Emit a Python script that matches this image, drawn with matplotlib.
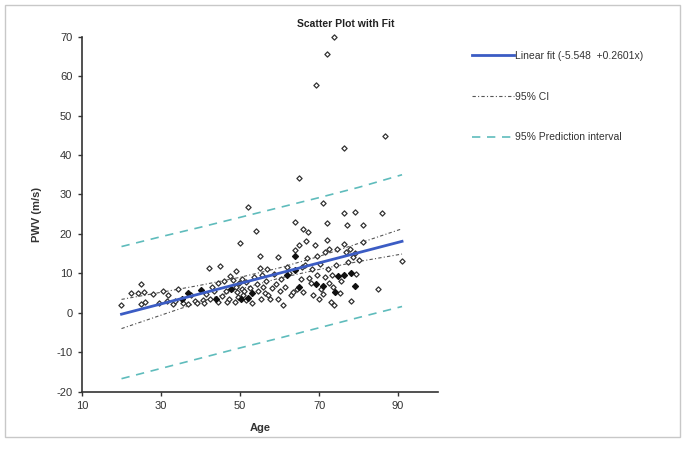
import matplotlib
matplotlib.use("Agg")
import matplotlib.pyplot as plt
from matplotlib.patches import Rectangle

plt.rcParams['font.family'] = ['Liberation Sans', 'DejaVu Sans']
plt.rcParams['axes.unicode_minus'] = False

# ---- data ----
age = [19.8, 22.5, 24.2, 24.9, 24.9, 25.8, 26.0, 28.0, 29.5, 30.5, 31.5, 31.8,
       33.0, 33.5, 34.2, 35.2, 35.5, 36.8, 36.8, 37.5, 38.5, 39.0, 40.1, 40.5,
       40.8, 41.5, 42.1, 42.5, 43.0, 43.5, 44.0, 44.9, 44.5, 44.5, 45.5, 46.0,
       46.5, 46.8, 47.2, 47.7, 47.5, 48.3, 48.6, 49.1, 49.0, 49.3, 49.5, 49.8,
       50.1, 50.2, 50.5, 50.5, 50.8, 51.0, 51.5, 51.5, 52.0, 52.1, 52.5, 53.0,
       53.0, 53.5, 54.0, 54.3, 54.6, 55.1, 55.1, 55.2, 55.5, 55.8, 56.2, 56.8,
       56.5, 57.0, 57.7, 58.0, 58.7, 59.0, 59.7, 59.7, 60.0, 60.3, 60.8, 61.3,
       61.8, 62.0, 62.5, 62.8, 63.5, 63.9, 63.9, 64.0, 64.0, 64.3, 64.9, 65.0,
       65.0, 65.5, 65.8, 66.0, 66.0, 66.5, 66.7, 67.1, 67.0, 67.5, 68.0, 68.3,
       68.5, 69.0, 69.1, 69.1, 69.5, 69.5, 69.9, 70.3, 70.5, 71.0, 71.0, 71.0,
       71.5, 71.5, 72.0, 72.0, 72.0, 72.3, 72.5, 72.5, 72.9, 73.3, 73.5, 73.8,
       73.9, 74.0, 74.2, 74.5, 74.9, 75.2, 75.5, 76.2, 76.2, 76.3, 76.4, 76.8,
       77.1, 77.3, 77.9, 78.1, 78.2, 78.5, 79.0, 79.1, 79.1, 79.3, 80.0, 81.1,
       81.0, 84.8, 85.9, 86.8, 91.0]
pwv = [2.0, 4.9, 4.9, 7.2, 2.2, 5.3, 2.8, 4.7, 2.6, 5.6, 2.9, 4.6,
       2.2, 2.9, 6.1, 3.5, 2.4, 5.1, 2.2, 4.5, 3.0, 2.5, 5.8, 3.2,
       2.6, 4.8, 11.4, 3.5, 6.5, 5.6, 3.5, 11.9, 7.6, 2.8, 4.2, 8.0,
       5.5, 2.8, 3.6, 6.0, 9.3, 8.2, 2.8, 10.6, 6.6, 5.2, 4.0, 7.5,
       17.8, 3.5, 8.6, 6.0, 4.6, 5.5, 7.9, 3.2, 26.9, 3.8, 6.2, 5.0,
       2.5, 9.0, 20.7, 7.2, 5.5, 14.5, 11.3, 3.6, 9.5, 6.5, 5.0, 11.2,
       8.0, 4.5, 3.6, 6.3, 9.8, 7.2, 14.2, 3.6, 5.5, 8.5, 2.1, 6.5,
       9.7, 11.5, 10.2, 4.6, 5.2, 14.4, 23.1, 15.9, 10.9, 6.0, 34.3, 17.2,
       6.5, 8.5, 11.5, 21.3, 5.2, 12.0, 18.2, 20.4, 14.0, 8.8, 7.5, 11.0,
       4.4, 17.2, 7.4, 57.8, 14.5, 9.5, 3.5, 12.5, 6.0, 27.8, 6.8, 4.8,
       15.5, 9.0, 65.6, 22.7, 18.4, 11.0, 16.3, 7.5, 2.8, 9.5, 6.5, 2.1,
       69.8, 5.4, 12.0, 16.1, 9.4, 5.0, 8.0, 25.2, 17.4, 41.7, 9.5, 15.3,
       22.3, 13.0, 16.3, 2.9, 10.2, 14.2, 15.1, 25.5, 6.9, 9.8, 13.5, 22.3,
       18.0, 6.1, 25.2, 44.7, 13.2]

# overlapping (dark-looking) points
dup_age = [35.2, 36.8, 40.1, 44.0, 47.7, 50.2, 52.1, 53.0, 61.8, 63.9, 64.0,
           65.0, 69.1, 71.0, 74.0, 74.9, 76.4, 78.2, 79.1]
dup_pwv = [3.5, 5.1, 5.8, 3.5, 6.0, 3.5, 3.8, 5.0, 9.7, 14.4, 10.9,
           6.5, 7.4, 6.8, 5.4, 9.4, 9.5, 10.2, 6.9]

fit_x = [20, 91]
fit_y = [-0.35, 18.12]

band_x = [20, 30, 40, 50, 60, 70, 80, 91]
ci_upper = [3.4, 5.2, 7.0, 9.0, 11.4, 14.3, 17.6, 21.3]
ci_lower = [-4.0, -0.6, 2.8, 6.0, 8.8, 11.0, 13.0, 14.9]
pi_upper = [16.8, 19.3, 21.7, 24.2, 26.7, 29.2, 31.8, 35.0]
pi_lower = [-16.7, -14.1, -11.5, -8.9, -6.4, -3.8, -1.2, 1.6]

x_ticks = [10, 30, 50, 70, 90]
y_ticks = [-20, -10, 0, 10, 20, 30, 40, 50, 60, 70]

fit_label = "Linear fit (-5.548  +0.2601x)"
ci_label = "95% CI"
pi_label = "95% Prediction interval"

# ---- figure ----
W, H = 685, 450
fig = plt.figure(figsize=(W / 100, H / 100), dpi=100)
fig.patches.append(Rectangle((5 / W, 1 - 437 / H), 675 / W, 432 / H,
                             transform=fig.transFigure, fill=False,
                             edgecolor='#c8c8c8', linewidth=1.0))

ax = fig.add_axes([82 / W, 1 - 391.7 / H, (437.6 - 82) / W, (391.7 - 36.7) / H])

ax.scatter(age, pwv, marker='D', s=7, facecolor='white',
           edgecolor='#333333', linewidths=0.9, zorder=3, clip_on=False)
ax.scatter(dup_age, dup_pwv, marker='D', s=9, facecolor='#111111',
           edgecolor='#111111', linewidths=0.9, zorder=3)

l_fit, = ax.plot(fit_x, fit_y, color='#3b5cc4', linewidth=2.0, zorder=4,
                 label=fit_label)
l_ci, = ax.plot(band_x, ci_upper, color='#555555', linewidth=0.8,
                linestyle=(0, (3, 2, 1, 2)), zorder=2, label=ci_label)
ax.plot(band_x, ci_lower, color='#555555', linewidth=0.8,
        linestyle=(0, (3, 2, 1, 2)), zorder=2)
l_pi, = ax.plot(band_x, pi_upper, color='#5fbcbc', linewidth=1.2,
                linestyle=(0, (5, 4)), zorder=2, label=pi_label)
ax.plot(band_x, pi_lower, color='#5fbcbc', linewidth=1.2,
        linestyle=(0, (5, 4)), zorder=2)

ax.set_xlim(10, 100)
ax.set_ylim(-20, 70)
ax.set_xticks(x_ticks)
ax.set_yticks(y_ticks)
for s in ['top', 'right']:
    ax.spines[s].set_visible(False)
for s in ['left', 'bottom']:
    ax.spines[s].set_color('#333333')
    ax.spines[s].set_linewidth(1.2)
ax.tick_params(direction='out', length=3, width=1, color='#333333',
               labelsize=8, labelcolor='#333333', pad=4)

ax.set_xlabel("Age", fontsize=8, fontweight='bold', color='#333333', labelpad=8)
ax.set_ylabel("PWV (m/s)", fontsize=8, fontweight='bold', color='#333333', labelpad=10)

fig.text(346 / W, 1 - 24 / H, "Scatter Plot with Fit", ha='center', va='center',
         fontsize=7.5, fontweight='bold', color='#222222')

leg = fig.legend(handles=[l_fit, l_ci, l_pi], loc='upper left',
                 bbox_to_anchor=(472 / W, 1 - 51 / H), frameon=False,
                 fontsize=7.5, labelspacing=2.95, handlelength=4.0,
                 handletextpad=0.1, borderaxespad=0, borderpad=0)
for t in leg.get_texts():
    t.set_color('#333333')

fig.savefig("out.png", dpi=100)
